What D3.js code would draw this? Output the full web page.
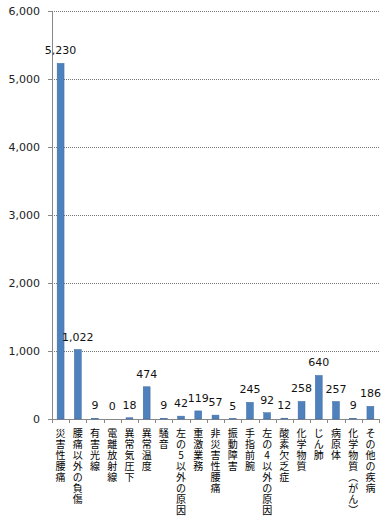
<!DOCTYPE html>
<html>
<head>
<meta charset="utf-8">
<script src="https://cdn.jsdelivr.net/npm/d3@7"></script>
<style>
  body { margin: 0; background: #fff; }
  text { font-family: "DejaVu Sans", sans-serif; }
</style>
</head>
<body>
<svg></svg>
<script>
const categories = ['災害性腰痛', '腰痛以外の負傷', '有害光線', '電離放射線', '異常気圧下', '異常温度', '騒音',
  '左の5以外の原因', '重激業務', '非災害性腰痛', '振動障害', '手指前腕', '左の4以外の原因', '酸素欠乏症',
  '化学物質', 'じん肺', '病原体', '化学物質(がん)', 'その他の疾病'];
const values = [5230, 1022, 9, 0, 18, 474, 9, 42, 119, 57, 5, 245, 92, 12, 258, 640, 257, 9, 186];
const yTicks = [0, 1000, 2000, 3000, 4000, 5000, 6000];

const width = 384, height = 520;
const margin = {top: 11, right: 5, left: 52, bottom: 101};
const innerWidth = width - margin.left - margin.right;
const innerHeight = height - margin.top - margin.bottom;
const format = d3.format(',');

const svg = d3.select('svg')
  .attr('width', width)
  .attr('height', height);

const data = categories.map((c, i) => ({cat: c, value: values[i]}));

const xScale = d3.scaleBand()
  .domain(categories)
  .range([0, innerWidth])
  .paddingInner(0.6)
  .paddingOuter(0.3);

const yScale = d3.scaleLinear()
  .domain([0, 6000])
  .range([innerHeight, 0]);

const g = svg.append('g')
  .attr('transform', `translate(${margin.left},${margin.top})`);

// grid
g.append('g').selectAll('line').data(yTicks.slice(1))
  .enter().append('line')
  .attr('x1', 0).attr('x2', innerWidth)
  .attr('y1', d => Math.round(yScale(d)) + 0.5)
  .attr('y2', d => Math.round(yScale(d)) + 0.5)
  .attr('stroke', '#777')
  .attr('stroke-dasharray', '1,1');

// y axis
const yAxis = g.append('g')
  .call(d3.axisLeft(yScale).tickValues(yTicks).tickFormat(format).tickSize(4).tickPadding(8));
yAxis.select('.domain').attr('stroke', '#888');
yAxis.selectAll('.tick line').attr('stroke', '#888');
yAxis.selectAll('.tick text').attr('font-size', 11).attr('fill', '#222');

// x axis: ticks at band boundaries
const step = xScale.step();
const xAxis = g.append('g').attr('transform', `translate(0,${innerHeight})`);
xAxis.append('line')
  .attr('x1', 0).attr('x2', innerWidth)
  .attr('y1', 0.5).attr('y2', 0.5)
  .attr('stroke', '#888');
xAxis.selectAll('.tk').data(d3.range(categories.length + 1))
  .enter().append('line')
  .attr('x1', i => Math.round(i * step) + 0.5)
  .attr('x2', i => Math.round(i * step) + 0.5)
  .attr('y1', 0).attr('y2', 4)
  .attr('stroke', '#888');

// category labels, one upright character per row
const vert = {'(': '\uFE35', ')': '\uFE36'};
const labels = xAxis.selectAll('.lbl').data(categories)
  .enter().append('text')
  .attr('class', 'lbl')
  .attr('text-anchor', 'middle')
  .attr('font-size', 10)
  .attr('fill', '#000')
  .style('font-family', '"Noto Sans CJK JP", sans-serif');
labels.selectAll('tspan').data(d => Array.from(d).map((ch, i) => ({ch, i, cat: d})))
  .enter().append('tspan')
  .attr('x', d => xScale(d.cat) + xScale.bandwidth() / 2)
  .attr('y', d => 18 + d.i * 11)
  .text(d => vert[d.ch] || d.ch);

// bars
g.selectAll('rect').data(data)
  .enter().append('rect')
  .attr('x', d => xScale(d.cat))
  .attr('y', d => yScale(d.value))
  .attr('width', xScale.bandwidth())
  .attr('height', d => innerHeight - yScale(d.value))
  .attr('fill', '#4F81BD')
  .attr('stroke', '#3d6ba3')
  .attr('stroke-width', 0.5);

// value labels
g.selectAll('.val').data(data)
  .enter().append('text')
  .attr('x', d => xScale(d.cat) + xScale.bandwidth() / 2)
  .attr('y', d => yScale(d.value) - 9)
  .attr('text-anchor', 'middle')
  .attr('font-size', 11)
  .attr('fill', '#111')
  .text(d => format(d.value));
</script>
</body>
</html>
